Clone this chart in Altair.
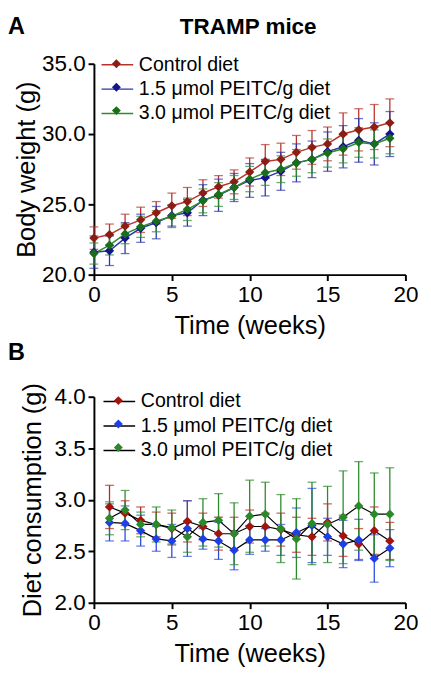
import altair as alt
import pandas as pd

FONT = "Arial, Liberation Sans, Helvetica, sans-serif"

series_names = ["Control diet", "1.5 \u03bcmol PEITC/g diet", "3.0 \u03bcmol PEITC/g diet"]
series_keys = ["c", "l", "h"]

# Panel A: body weight (g), weeks 0-19
weeks_bw = list(range(20))
ctrl_bw = [22.6, 22.85, 23.45, 23.9, 24.4, 24.9, 25.2, 25.8, 26.25, 26.6, 27.3, 28.05, 28.2, 28.7, 29.05, 29.3, 30.0, 30.3, 30.5, 30.8]
ctrl_bw_sd = [0.8, 0.75, 0.85, 0.9, 0.8, 0.9, 1.0, 0.95, 0.8, 0.85, 1.0, 1.2, 1.15, 1.2, 1.2, 1.2, 1.5, 1.5, 1.6, 1.7]
low_bw = [21.6, 21.7, 22.6, 23.3, 23.7, 24.2, 24.4, 25.3, 25.65, 26.2, 26.7, 26.9, 27.35, 27.95, 28.2, 28.75, 29.1, 29.55, 29.3, 30.0]
low_bw_sd = [1.15, 1.05, 1.1, 1.0, 1.15, 0.75, 0.95, 1.1, 1.15, 1.0, 1.2, 1.3, 1.35, 1.35, 1.3, 1.4, 1.5, 1.55, 1.5, 1.6]
high_bw = [21.5, 22.1, 22.9, 23.4, 23.8, 24.15, 24.65, 25.25, 25.7, 26.2, 26.8, 27.25, 27.5, 27.95, 28.2, 28.65, 28.95, 29.4, 29.3, 29.7]
high_bw_sd = [0.75, 0.7, 0.7, 0.75, 0.75, 0.8, 0.8, 0.85, 0.85, 0.85, 0.9, 0.9, 0.95, 0.95, 0.95, 1.0, 1.0, 1.05, 1.0, 1.1]

# Panel B: diet consumption (g), weeks 1-19
weeks_dc = list(range(1, 20))
ctrl_dc = [2.93, 2.87, 2.80, 2.76, 2.72, 2.79, 2.74, 2.67, 2.67, 2.74, 2.74, 2.71, 2.66, 2.64, 2.78, 2.65, 2.57, 2.70, 2.60]
ctrl_dc_sd = [0.21, 0.12, 0.13, 0.12, 0.15, 0.20, 0.13, 0.16, 0.16, 0.16, 0.13, 0.16, 0.17, 0.18, 0.18, 0.20, 0.15, 0.23, 0.18]
low_dc = [2.78, 2.77, 2.70, 2.62, 2.60, 2.72, 2.62, 2.60, 2.51, 2.61, 2.61, 2.61, 2.68, 2.75, 2.64, 2.57, 2.61, 2.43, 2.53]
low_dc_sd = [0.18, 0.17, 0.15, 0.12, 0.16, 0.27, 0.10, 0.18, 0.19, 0.14, 0.11, 0.15, 0.24, 0.36, 0.18, 0.23, 0.20, 0.23, 0.18]
high_dc = [2.82, 2.90, 2.76, 2.76, 2.73, 2.64, 2.78, 2.80, 2.67, 2.84, 2.86, 2.72, 2.62, 2.77, 2.76, 2.83, 2.94, 2.86, 2.86]
high_dc_sd = [0.16, 0.19, 0.12, 0.17, 0.17, 0.15, 0.23, 0.26, 0.30, 0.35, 0.31, 0.33, 0.39, 0.40, 0.37, 0.45, 0.43, 0.40, 0.45]

x_ticks = [0, 5, 10, 15, 20]
y_ticks_a = [20.0, 22.5, 25.0, 27.5, 30.0, 32.5, 35.0]
y_ticks_b = [2.0, 2.5, 3.0, 3.5, 4.0]

panel_title_a = "TRAMP mice"

# colours
line_a = ["#b8322a", "#2a36a8", "#2d8a2d"]
mark_a = ["#8c1c14", "#14148c", "#1a6e1a"]
err_a = ["#b8322a", "#2a36a8", "#2d8a2d"]
line_b = ["#000000", "#000000", "#000000"]
mark_b = ["#a3140e", "#1f3fe6", "#2a8a2a"]
err_b = ["#b02a22", "#2a4ae0", "#2a8a2a"]


def to_long(weeks, vals_list, sds_list):
    rows = []
    for name, key, vals, sds in zip(series_names, series_keys, vals_list, sds_list):
        for w, v, s in zip(weeks, vals, sds):
            rows.append(dict(week=w, value=v, lo=v - s, hi=v + s, series=name, key=key))
    return pd.DataFrame(rows)


df_a = to_long(weeks_bw, [ctrl_bw, low_bw, high_bw], [ctrl_bw_sd, low_bw_sd, high_bw_sd])
df_b = to_long(weeks_dc, [ctrl_dc, low_dc, high_dc], [ctrl_dc_sd, low_dc_sd, high_dc_sd])


def axis(values, title, fmt=None, title_pad=7):
    kw = dict(
        values=values, title=title, grid=False,
        labelFontSize=23, titleFontSize=26, labelFont=FONT, titleFont=FONT,
        titleFontWeight="normal", labelColor="black", titleColor="black",
        domainColor="black", tickColor="black", domainWidth=2, tickWidth=2,
        tickSize=6, labelPadding=3, labelFlush=False, titleLimit=500, labelLimit=200,
        titlePadding=title_pad,
    )
    if fmt:
        kw["format"] = fmt
    return alt.Axis(**kw)


def legends(lx, ly):
    common = dict(
        title=None, orient="none", legendX=lx, legendY=ly, symbolSize=576,
        labelFontSize=20, labelFont=FONT, labelOffset=9, rowPadding=2,
        padding=0, labelLimit=400,
    )
    line_leg = alt.Legend(symbolType="M-1.35,0H1.35", symbolStrokeWidth=1.5,
                          labelColor="black", **common)
    pt_leg = alt.Legend(symbolType="M0,-0.38L0.38,0L0,0.38L-0.38,0Z",
                        symbolStrokeWidth=0, labelExpr="''", **common)
    return line_leg, pt_leg


def panel(df, ydomain, yticks, ytitle, ytitle_pad, lines, marks, errs, line_w, lx, ly,
          letter, letter_y, width, height, title=None):
    base = alt.Chart(df)
    x = alt.X("week:Q", scale=alt.Scale(domain=[0, 20], nice=False),
              axis=axis(x_ticks, "Time (weeks)"))
    yscale = alt.Scale(domain=ydomain, nice=False, zero=False)
    y_lo = alt.Y("lo:Q", scale=yscale, axis=axis(yticks, ytitle, ".1f", ytitle_pad))
    err_col = alt.Color("series:N", scale=alt.Scale(domain=series_names, range=errs), legend=None)
    line_leg, pt_leg = legends(lx, ly)

    rules = base.mark_rule(strokeWidth=1.3).encode(x=x, y=y_lo, y2="hi:Q", color=err_col)
    cap_lo = base.mark_tick(orient="horizontal", size=9, thickness=1.3).encode(
        x=x, y=alt.Y("lo:Q", scale=yscale), color=err_col)
    cap_hi = base.mark_tick(orient="horizontal", size=9, thickness=1.3).encode(
        x=x, y=alt.Y("hi:Q", scale=yscale), color=err_col)
    line = base.mark_line(strokeWidth=line_w).encode(
        x=x, y=alt.Y("value:Q", scale=yscale),
        stroke=alt.Stroke("series:N", scale=alt.Scale(domain=series_names, range=lines),
                          legend=line_leg),
        detail="series:N")
    pts = base.mark_point(shape="diamond", filled=True, size=90, opacity=1).encode(
        x=x, y=alt.Y("value:Q", scale=yscale),
        fill=alt.Fill("key:N", scale=alt.Scale(domain=series_keys, range=marks),
                      legend=pt_leg))
    layers = [rules, cap_lo, cap_hi, line, pts]
    lab = alt.Chart(pd.DataFrame({"panel": [letter]})).mark_text(
        fontSize=24, fontWeight="bold", font=FONT, align="left", baseline="top",
        color="black").encode(text="panel:N", x=alt.value(-88), y=alt.value(letter_y))
    layers.append(lab)
    if title is not None:
        ttl = alt.Chart(pd.DataFrame({"title": [title]})).mark_text(
            fontSize=23, fontWeight="bold", font=FONT, align="center", baseline="top",
            color="black").encode(text="title:N", x=alt.value(158), y=alt.value(-48))
        layers.append(ttl)
    layer = alt.layer(*layers).resolve_scale(
        color="independent", stroke="independent", fill="independent")
    return layer.properties(width=width, height=height)


chart_a = panel(df_a, [20, 35], y_ticks_a, "Body weight (g)", 2, line_a, mark_a, err_a, 1.5,
                11, -12, "A", -49, 319, 216, panel_title_a)
chart_b = panel(df_b, [2, 4], y_ticks_b, "Diet consumption (g)", 9, line_b, mark_b, err_b, 1.2,
                13, -8, "B", -57, 319, 211)

chart = alt.vconcat(chart_a, chart_b, spacing=125, bounds="flush").resolve_scale(
    color="independent", stroke="independent", fill="independent"
).resolve_legend(
    color="independent", stroke="independent", fill="independent"
).properties(
    padding={"left": 0, "top": 0, "right": 5, "bottom": 5}
).configure_view(stroke=None)

chart.save("out.html", embed_options={"renderer": "svg", "actions": False})
